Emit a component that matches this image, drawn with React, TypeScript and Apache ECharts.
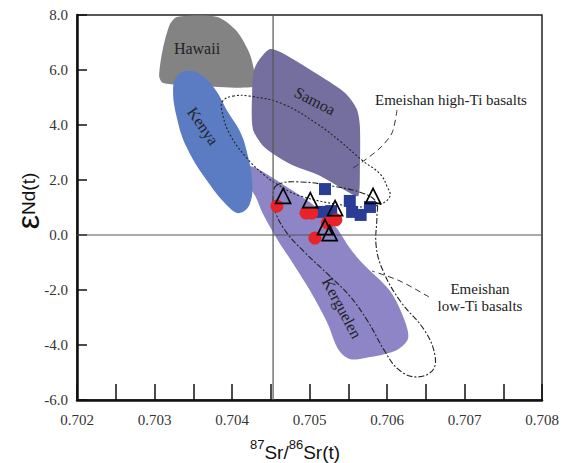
import React, { useEffect, useRef } from "react";
import * as echarts from "echarts";

// ---- data (87Sr/86Sr(t), εNd(t)) ----
const redCircles: number[][] = [
  [0.70458, 1.05], [0.704955, 0.8], [0.70503, 0.8], [0.70523, 0.44], [0.70534, 0.55], [0.70507, -0.11],
];
const blueSquares: number[][] = [
  [0.7052, 1.67], [0.70552, 1.24], [0.70555, 0.84], [0.70566, 0.73], [0.70578, 1.02], [0.70515, 0.84], [0.70528, 0.87],
];
const triangles: number[][] = [
  [0.70466, 1.42], [0.70501, 1.27], [0.70533, 0.98], [0.70582, 1.42], [0.7052, 0.29], [0.70526, 0.07],
];

const hawaii: number[][] = [
  [0.70329, 7.93], [0.70381, 7.93], [0.70406, 7.42], [0.70423, 6.58], [0.7043, 5.71], [0.70427, 5.38],
  [0.70359, 5.42], [0.70311, 5.53], [0.70306, 5.78], [0.70311, 6.8], [0.7032, 7.67],
];
const kenya: number[][] = [
  [0.70342, 5.96], [0.70359, 5.85], [0.70378, 5.31], [0.70394, 4.51], [0.7041, 3.78], [0.70419, 3.05],
  [0.70426, 1.96], [0.70423, 1.13], [0.7041, 0.8], [0.70397, 0.98], [0.70368, 1.96], [0.70342, 3.16],
  [0.70329, 4.25], [0.70324, 5.35], [0.7033, 5.82],
];
const samoa: number[][] = [
  [0.70434, 6.33], [0.70449, 6.76], [0.70465, 6.62], [0.70514, 5.78], [0.70546, 5.16], [0.70561, 4.58],
  [0.70565, 3.96], [0.70565, 2.33], [0.70563, 1.42], [0.70552, 1.53], [0.70514, 2.15], [0.70475, 2.58],
  [0.70443, 3.16], [0.70427, 3.85], [0.70426, 5.24], [0.70428, 5.96],
];
const kerguelen: number[][] = [
  [0.70423, 2.51], [0.70443, 2.25], [0.70475, 1.67], [0.70507, 1.05], [0.70533, 0.33], [0.70552, -0.47],
  [0.70568, -1.02], [0.70604, -2.04], [0.70623, -3.13], [0.70627, -3.78], [0.7061, -4.22], [0.70572, -4.47],
  [0.70552, -4.51], [0.70537, -4.15], [0.70523, -3.2], [0.70501, -2.04], [0.70475, -0.87], [0.70462, -0.33],
  [0.7044, 0.76], [0.7043, 1.42], [0.70417, 1.96], [0.70414, 2.33],
];
const highTi: number[][] = [
  [0.70401, 5.05], [0.70423, 5.05], [0.70466, 4.76], [0.7051, 4.04], [0.70539, 3.42], [0.70569, 2.69],
  [0.70591, 2.22], [0.70601, 1.71], [0.70604, 1.42], [0.70595, 1.16], [0.70582, 1.05], [0.70552, 1.05],
  [0.70488, 1.42], [0.70458, 1.85], [0.7044, 2.22], [0.70419, 2.8], [0.70397, 3.67], [0.70387, 4.51],
  [0.70388, 4.87],
];
const lowTi: number[][] = [
  [0.70458, 1.82], [0.70488, 1.93], [0.70529, 1.78], [0.70568, 1.53], [0.70586, 1.2], [0.70587, 0.69],
  [0.70586, -0.4], [0.70595, -1.31], [0.70617, -2.4], [0.70649, -3.49], [0.70662, -4.4], [0.70658, -4.95],
  [0.70636, -5.16], [0.70614, -4.87], [0.70597, -4.22], [0.70575, -3.13], [0.70552, -2.22], [0.70526, -1.49],
  [0.70492, -0.58], [0.70471, 0.07], [0.70457, 0.76], [0.70453, 1.38],
];
const bulkEarthSr = 0.70453;
const bulkEarthNd = 0;
const xRange = [0.702, 0.708];
const yRange = [-6, 8];

const SERIF = "'Liberation Serif', 'Times New Roman', serif";
const SANS = "'Liberation Sans', Arial, sans-serif";

function region(name: string, pts: number[][], style: any, smooth: number) {
  return {
    type: "custom",
    name,
    silent: true,
    clip: true,
    data: [pts[0]],
    encode: { x: 0, y: 1 },
    renderItem: (_p: any, api: any) => ({
      type: "polygon",
      shape: { points: pts.map((p) => api.coord(p)), smooth },
      style,
    }),
  };
}

function label(text: string, x: number, y: number, rotDeg: number, size: number) {
  return {
    type: "text",
    x,
    y,
    rotation: (rotDeg * Math.PI) / 180,
    z: 100,
    style: {
      text,
      fill: "#222",
      fontSize: size,
      fontFamily: SERIF,
      align: "center",
      verticalAlign: "middle",
      textAlign: "center",
      textVerticalAlign: "middle",
    },
  };
}

export default function App() {
  const ref = useRef<HTMLDivElement>(null);
  useEffect(() => {
    if (!ref.current) return;
    const chart = echarts.init(ref.current, undefined, { renderer: "svg" });
    chart.setOption({
      animation: false,
      grid: { left: 77, right: 28, top: 15, bottom: 63, show: true, borderColor: "#222", borderWidth: 1.5 },
      xAxis: {
        type: "value",
        min: xRange[0],
        max: xRange[1],
        interval: 0.0005,
        axisLine: { show: true, onZero: false, lineStyle: { color: "#111", width: 2.5 } },
        axisTick: { show: true, inside: true, length: 16, lineStyle: { color: "#111", width: 1.5 } },
        splitLine: { show: false },
        axisLabel: {
          margin: 12,
          color: "#333",
          fontSize: 15,
          fontFamily: SERIF,
          formatter: (v: number) => {
            const k = Math.round(v * 10000);
            return k % 10 === 0 ? v.toFixed(3) : "";
          },
        },
      },
      yAxis: {
        type: "value",
        min: yRange[0],
        max: yRange[1],
        interval: 2,
        axisLine: { show: true, onZero: false, lineStyle: { color: "#111", width: 2.5 } },
        axisTick: { show: true, inside: true, length: 10, lineStyle: { color: "#111", width: 1.5 } },
        splitLine: { show: false },
        axisLabel: {
          margin: 9,
          color: "#333",
          fontSize: 15,
          fontFamily: SERIF,
          formatter: (v: number) => v.toFixed(1),
        },
      },
      series: [
        region("Hawaii", hawaii, { fill: "#838383" }, 0.25),
        region("Kerguelen", kerguelen, { fill: "#8d85c6" }, 0.3),
        region("Samoa", samoa, { fill: "#756f9f" }, 0.25),
        region("Kenya", kenya, { fill: "#5b7cc3" }, 0.4),
        region("Emeishan high-Ti basalts", highTi, { fill: "none", stroke: "#222", lineWidth: 1.1, lineDash: [2, 2] }, 0.4),
        region("Emeishan low-Ti basalts", lowTi, { fill: "none", stroke: "#222", lineWidth: 1.1, lineDash: [6, 2, 2, 2] }, 0.4),
        {
          type: "custom",
          name: "reference lines",
          silent: true,
          clip: true,
          data: [[bulkEarthSr, bulkEarthNd]],
          encode: { x: 0, y: 1 },
          renderItem: (_p: any, api: any) => {
            const a = api.coord([bulkEarthSr, yRange[0]]);
            const b = api.coord([bulkEarthSr, yRange[1]]);
            const c = api.coord([xRange[0], bulkEarthNd]);
            const d = api.coord([xRange[1], bulkEarthNd]);
            const st = { stroke: "#555", lineWidth: 1.2, fill: "none" };
            return {
              type: "group",
              children: [
                { type: "line", shape: { x1: a[0], y1: a[1], x2: b[0], y2: b[1] }, style: st },
                { type: "line", shape: { x1: c[0], y1: c[1], x2: d[0], y2: d[1] }, style: st },
              ],
            };
          },
        },
        {
          type: "scatter",
          name: "squares",
          symbol: "rect",
          symbolSize: 12,
          data: blueSquares,
          itemStyle: { color: "#2a3d96", opacity: 1 },
        },
        {
          type: "scatter",
          name: "circles",
          symbol: "circle",
          symbolSize: 13,
          data: redCircles,
          itemStyle: { color: "#e8232a", opacity: 1 },
        },
        {
          type: "scatter",
          name: "triangles",
          symbol: "triangle",
          symbolSize: 15,
          data: triangles,
          itemStyle: { color: "rgba(255,255,255,0)", borderColor: "#000", borderWidth: 1.7, opacity: 1 },
        },
      ],
      graphic: [
        label("Hawaii", 197, 48, 0, 16),
        label("Samoa", 315, 101, -27, 16),
        label("Kenya", 203, 126, -55, 16),
        label("Kerguelen", 342, 308, -62, 16),
        {
          type: "text",
          x: 375,
          y: 100,
          z: 100,
          style: {
            text: "Emeishan high-Ti basalts",
            fill: "#222",
            fontSize: 15,
            fontFamily: SERIF,
            align: "left",
            verticalAlign: "middle",
            textAlign: "left",
            textVerticalAlign: "middle",
          },
        },
        {
          type: "text",
          x: 480,
          y: 297,
          z: 100,
          style: {
            text: "Emeishan\nlow-Ti basalts",
            fill: "#222",
            fontSize: 15,
            lineHeight: 17,
            fontFamily: SERIF,
            align: "center",
            verticalAlign: "middle",
            textAlign: "center",
            textVerticalAlign: "middle",
          },
        },
        {
          type: "polyline",
          z: 100,
          shape: { points: [[397, 110], [392, 133], [380, 148], [365, 160], [353, 168]], smooth: 0.3 },
          style: { stroke: "#333", lineWidth: 1, lineDash: [6, 4], fill: "none" },
        },
        {
          type: "polyline",
          z: 100,
          shape: { points: [[429, 297], [400, 281], [372, 271]], smooth: 0.3 },
          style: { stroke: "#333", lineWidth: 1, lineDash: [6, 4], fill: "none" },
        },
        {
          type: "text",
          x: 28,
          y: 201,
          rotation: Math.PI / 2,
          z: 100,
          style: {
            text: "{e|ε}{n|Nd(t)}",
            fill: "#111",
            align: "center",
            verticalAlign: "middle",
            textAlign: "center",
            textVerticalAlign: "middle",
            rich: {
              e: { fontSize: 32, fontFamily: SANS, fill: "#111", lineHeight: 34, verticalAlign: "middle" },
              n: { fontSize: 19, fontFamily: SANS, fill: "#111", lineHeight: 34, verticalAlign: "middle" },
            },
          },
        },
        {
          type: "text",
          x: 295,
          y: 450,
          z: 100,
          style: {
            text: "{s|87}{m|Sr/}{s|86}{m|Sr(t)}",
            fill: "#111",
            align: "center",
            verticalAlign: "middle",
            textAlign: "center",
            textVerticalAlign: "middle",
            rich: {
              s: { fontSize: 13, fontFamily: SANS, fill: "#111", lineHeight: 24, verticalAlign: "top" },
              m: { fontSize: 19, fontFamily: SANS, fill: "#111", lineHeight: 24, verticalAlign: "bottom" },
            },
          },
        },
      ],
    });
    return () => chart.dispose();
  }, []);
  return (
    <div
      ref={ref}
      style={{ position: "absolute", left: 0, top: 0, width: 570, height: 463, background: "#fff" }}
    />
  );
}
